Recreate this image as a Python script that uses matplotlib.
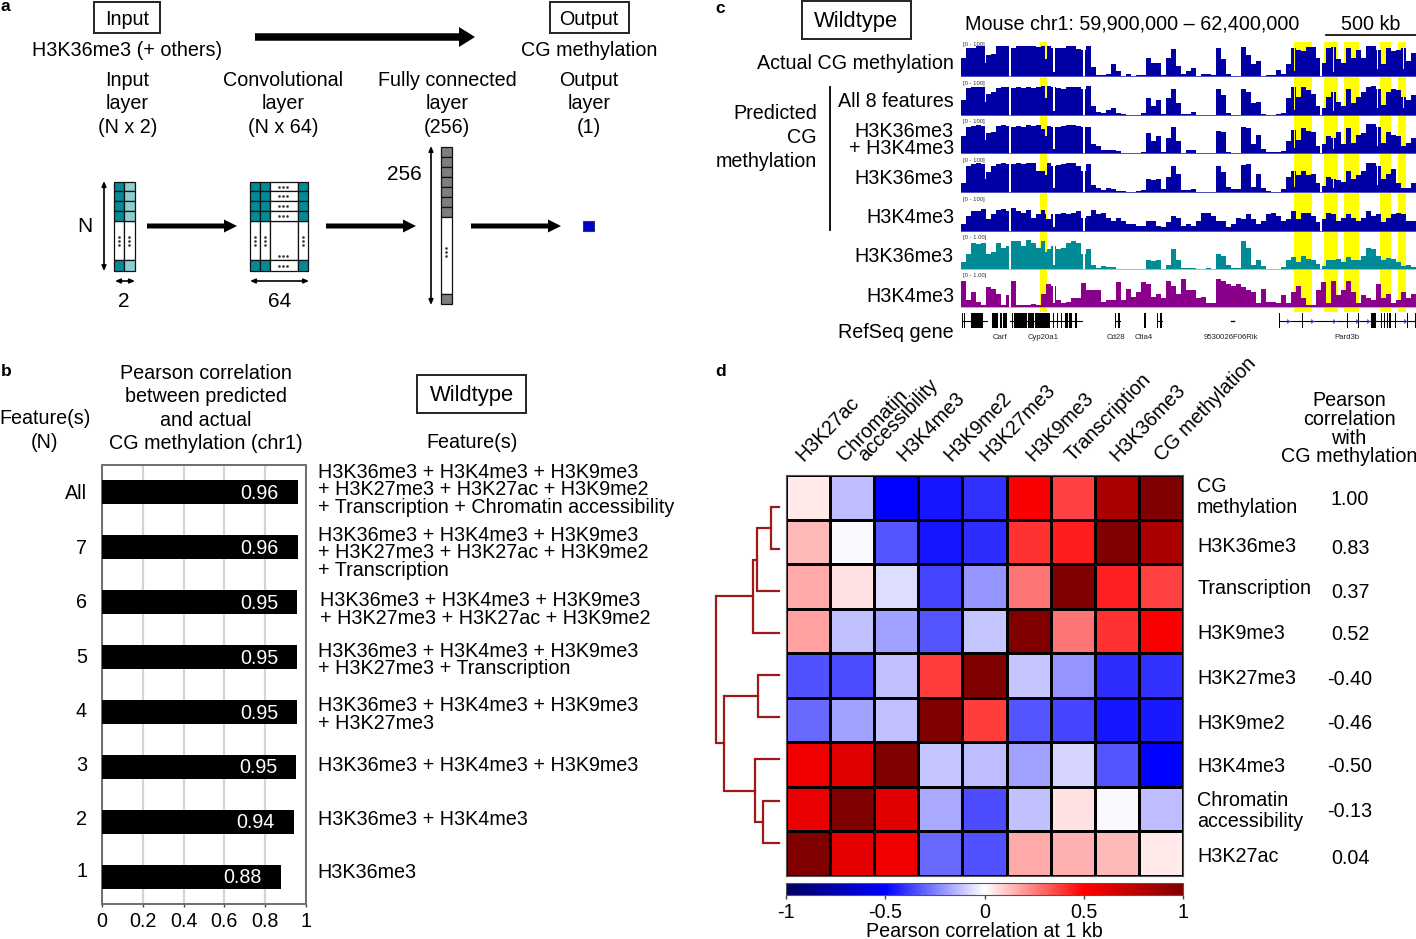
import numpy as np
import matplotlib
matplotlib.use("Agg")
import matplotlib.pyplot as plt
from matplotlib.colors import LinearSegmentedColormap
from matplotlib.patches import FancyArrow, Rectangle

plt.rcParams["font.family"] = ["Liberation Sans", "DejaVu Sans"]

W, H = 1416, 939
FS = 14.2

# -----------------------------
# Data: panel b
# -----------------------------
bar_names = ["All", "7", "6", "5", "4", "3", "2", "1"]
bar_values = [0.96, 0.96, 0.956, 0.956, 0.956, 0.952, 0.94, 0.877]
bar_labels = ["0.96", "0.96", "0.95", "0.95", "0.95", "0.95", "0.94", "0.88"]
bar_ticks = [0, 0.2, 0.4, 0.6, 0.8, 1]
bar_ticklabels = ["0", "0.2", "0.4", "0.6", "0.8", "1"]
feature_lines = [
    "H3K36me3 + H3K4me3 + H3K9me3",
    "+ H3K27me3 + H3K27ac + H3K9me2",
    "+ Transcription + Chromatin accessibility",
    "H3K36me3 + H3K4me3 + H3K9me3",
    "+ H3K27me3 + H3K27ac + H3K9me2",
    "+ Transcription",
    "H3K36me3 + H3K4me3 + H3K9me3",
    "+ H3K27me3 + H3K27ac + H3K9me2",
    "H3K36me3 + H3K4me3 + H3K9me3",
    "+ H3K27me3 + Transcription",
    "H3K36me3 + H3K4me3 + H3K9me3",
    "+ H3K27me3",
    "H3K36me3 + H3K4me3 + H3K9me3",
    "H3K36me3 + H3K4me3",
    "H3K36me3",
]

# -----------------------------
# Data: panel c, genome tracks (5 px bins)
# -----------------------------
track_actual = [60,92,90,98,98,70,72,98,98,96,92,97,98,98,98,95,98,98,92,90,90,98,98,88,85,98,30,5,6,10,40,18,3,8,3,6,5,60,45,45,5,60,88,35,10,18,
                28,2,8,10,5,90,55,10,3,4,95,70,40,50,3,6,6,22,10,40,90,85,80,95,95,60,45,90,95,55,45,90,60,85,60,98,98,85,40,92,80,85,90,50,75]
track_all8 = [50,88,90,92,90,70,75,88,92,90,88,90,88,90,88,92,95,95,90,88,85,92,90,90,85,95,30,12,8,18,25,8,5,4,4,3,10,55,30,50,5,55,85,40,5,6,
              12,3,3,3,3,85,65,8,4,4,85,75,40,45,6,4,4,5,8,55,90,60,90,80,70,30,25,60,75,45,30,85,40,60,75,90,95,85,35,75,85,80,60,50,65]
track_pair = [55,85,88,92,88,65,70,88,92,88,85,88,85,90,88,90,78,88,85,85,88,90,90,88,85,85,30,25,12,14,14,8,3,3,3,3,5,65,40,55,5,50,85,40,3,14,
              14,3,4,4,3,72,70,6,4,4,85,80,30,60,15,6,6,5,10,40,75,45,80,72,70,25,30,55,50,70,30,80,35,60,65,95,95,85,35,70,60,55,25,35,50]
track_k36 = [30,85,90,95,90,65,85,90,95,92,90,95,92,95,95,70,70,95,85,88,92,95,95,85,70,90,25,15,10,15,12,5,5,4,3,5,8,45,40,45,12,50,85,60,10,8,
             12,3,4,3,4,85,65,20,12,12,88,90,20,60,15,5,3,4,12,50,70,55,70,55,60,30,22,50,45,40,35,70,45,55,70,95,95,85,45,60,75,30,15,15,30]
track_k4 = [25,50,65,65,72,40,55,70,72,65,75,65,60,70,45,55,68,40,55,55,60,55,60,65,45,50,70,55,60,45,35,45,35,25,25,20,20,35,35,20,15,30,50,45,20,25,
            20,35,60,60,50,35,35,15,25,45,40,55,40,25,35,55,60,50,35,40,65,40,60,60,50,30,40,60,55,35,45,55,45,35,45,65,50,55,30,45,55,60,55,35,35]
track_chip36 = [25,50,85,80,85,50,55,85,70,75,90,92,75,95,85,70,90,65,75,65,70,85,90,85,50,65,15,5,12,8,10,3,3,3,2,2,3,30,28,30,4,15,65,30,5,6,
                5,4,4,5,3,50,45,15,5,5,90,70,15,30,12,2,2,2,8,30,40,25,45,35,30,20,12,30,30,35,25,40,30,30,45,70,65,45,30,38,35,25,12,15,10]
track_chip4 = [85,25,50,20,10,65,60,45,10,40,85,10,10,8,12,8,45,75,70,25,15,20,30,30,78,55,55,55,20,25,25,80,25,60,35,50,80,75,35,45,30,85,70,45,90,55,
               55,30,35,15,15,90,85,75,70,75,65,55,50,15,60,20,20,15,40,15,50,70,30,10,10,55,80,15,85,40,55,85,50,15,40,30,25,75,30,45,15,25,50,30,45]
track_series = [track_actual, track_all8, track_pair, track_k36, track_k4, track_chip36, track_chip4]
track_colors = ["#0000a5"] * 5 + ["#008b96", "#8b008b"]
track_base_colors = ["#5a5ac8"] * 5 + ["#c0c0c0", "#c0c0c0"]
track_ranges = ["[0 - 100]"] * 5 + ["[0 - 1.00]"] * 2
track_labels = ["Actual CG methylation", "All 8 features", "H3K36me3", "H3K4me3",
                "H3K36me3", "H3K4me3", "RefSeq gene"]
# narrow dips seen in the tracks: x in px, width in px, level
track_dips = [(1009, 2, 0), (1053, 2, 15), (1083, 2, 0), (1320, 2, 0), (1045, 2, 55),
              (985, 1, 45), (1294, 1, 20), (1333, 1, 15), (1377, 1, 25), (1403, 1, 25)]
# how many of the dips each track shows, first ones first
track_dip_use = [10, 10, 10, 9, 5, 5, 2]

highlight_spans = [(1040, 1047), (1294, 1312), (1324, 1338), (1344, 1359), (1380, 1391), (1398, 1406)]

gene_lines = [(962, 987), (1010, 1082), (1115, 1120), (1157, 1162), (1279, 1416)]
gene_exons = [(962, 963), (964, 965), (971, 983), (992, 998), (1000, 1002), (1003, 1007), (1012, 1013),
              (1014, 1027), (1028, 1034), (1035, 1050), (1053, 1054), (1057, 1058), (1061, 1062),
              (1065, 1068), (1069, 1072), (1075, 1077), (1115, 1116), (1118, 1120), (1144, 1146),
              (1157, 1158), (1160, 1162), (1279, 1280), (1302, 1303), (1347, 1348), (1358, 1359),
              (1371, 1376), (1381, 1382), (1384, 1385), (1387, 1388), (1389, 1391), (1395, 1396),
              (1407, 1408), (1415, 1416)]
gene_dash = (1231, 1234)
gene_strand = [1288, 1312, 1334, 1357, 1368, 1405]
gene_names = ["Carf", "Cyp20a1", "Cd28", "Ctla4", "9530026F06Rik", "Pard3b"]
gene_name_x = [1000, 1043, 1116, 1144, 1231, 1347]

# -----------------------------
# Data: panel d
# -----------------------------
corr_cols = ["H3K27ac", "Chromatin\naccessibility", "H3K4me3", "H3K9me2", "H3K27me3",
             "H3K9me3", "Transcription", "H3K36me3", "CG methylation"]
corr_rows = ["CG\nmethylation", "H3K36me3", "Transcription", "H3K9me3", "H3K27me3",
             "H3K9me2", "H3K4me3", "Chromatin\naccessibility", "H3K27ac"]
corr_with_cg = ["1.00", "0.83", "0.37", "0.52", "-0.40", "-0.46", "-0.50", "-0.13", "0.04"]
corr = [
    [0.04, -0.13, -0.50, -0.46, -0.40, 0.52, 0.37, 0.83, 1.00],
    [0.14, -0.01, -0.33, -0.46, -0.41, 0.40, 0.44, 1.00, 0.83],
    [0.17, 0.06, -0.07, -0.36, -0.21, 0.27, 1.00, 0.43, 0.37],
    [0.18, -0.12, -0.18, -0.33, -0.11, 1.00, 0.27, 0.40, 0.52],
    [-0.34, -0.35, -0.12, 0.38, 1.00, -0.11, -0.21, -0.41, -0.40],
    [-0.29, -0.18, -0.12, 1.00, 0.38, -0.33, -0.36, -0.46, -0.45],
    [0.55, 0.62, 1.00, -0.11, -0.13, -0.18, -0.08, -0.33, -0.50],
    [0.58, 1.00, 0.62, -0.17, -0.35, -0.12, 0.06, -0.01, -0.13],
    [1.00, 0.60, 0.55, -0.29, -0.34, 0.17, 0.15, 0.14, 0.04],
]
# dendrogram: (child a, child b, height), negative ids are leaves 0..8 as -1..-9
dendro_merges = [(-1, -2, 8), (0, -3, 22), (1, -4, 25.5), (-5, -6, 20.5), (-8, -9, 15.5),
                 (-7, 4, 24), (3, 5, 55), (2, 6, 63)]

cbar_ticks = [-1, -0.5, 0, 0.5, 1]
cbar_ticklabels = ["-1", "-0.5", "0", "0.5", "1"]


def px_axes(left, top, right, bottom, **kw):
    return fig.add_axes([left / W, 1 - bottom / H, (right - left) / W, (bottom - top) / H], **kw)


def txt(x, y, s, size=FS, ha="center", va="center", **kw):
    page.text(x, y + 1.5, s, fontsize=size, ha=ha, va=va, **kw)


def arrow(x0, x1, y, shaft, head_w, head_l):
    page.add_patch(FancyArrow(x0, y, x1 - x0, 0, width=shaft, head_width=head_w, head_length=head_l,
                              length_includes_head=True, color="black", lw=0))


fig = plt.figure(figsize=(W / 100, H / 100), dpi=100)
page = fig.add_axes([0, 0, 1, 1], zorder=0)
page.set_xlim(0, W)
page.set_ylim(H, 0)
page.axis("off")

for x, y, s in [(5, 5, "a"), (6, 370, "b"), (720, 7, "c"), (721, 370, "d")]:
    txt(x, y, s, size=12.5, fontweight="bold")

# -----------------------------
# Panel a: network schematic
# -----------------------------
for x0, x1, y0, y1 in [(94, 160, 2, 33), (550, 629, 2, 33), (417, 526, 375, 413), (802, 911, 1, 39)]:
    page.add_patch(Rectangle((x0, y0), x1 - x0, y1 - y0, fc="white", ec="#222222", lw=1.4))
txt(127, 18, "Input")
txt(589, 18, "Output")
txt(127.5, 49, "H3K36me3 (+ others)")
txt(589, 49, "CG methylation")
arrow(255, 475, 37, 7.5, 20, 16)
for cx, lines in [(127.5, ["Input", "layer", "(N x 2)"]), (283, ["Convolutional", "layer", "(N x 64)"]),
                  (447, ["Fully connected", "layer", "(256)"]), (589, ["Output", "layer", "(1)"])]:
    for y, s in zip([79, 102, 126], lines):
        txt(cx, y, s)
for x0, x1 in [(147, 237), (326, 416), (471, 561)]:
    arrow(x0, x1, 226, 5, 13, 13)

TEAL, LTEAL, GREY = "#008b96", "#8ccdd2", "#7f7f7f"
row_edges = [182, 191, 200.5, 210.5, 220.5]
bottom_row = (260, 271)


def cell(x0, x1, y0, y1, color):
    page.add_patch(Rectangle((x0, y0), x1 - x0, y1 - y0, fc=color, ec="#111111", lw=0.9))


for x0, x1, c in [(114, 124, TEAL), (124, 134.5, LTEAL)]:
    cell(x0, x1, 220.5, 260, "white")
    cell(x0, x1, *bottom_row, c)
    for y0, y1 in zip(row_edges[:-1], row_edges[1:]):
        cell(x0, x1, y0, y1, c)
    page.plot([(x0 + x1) / 2] * 3, [237, 241, 245], ls="", marker="s", ms=0.8, color="#333333")

conv_cols = [(249.5, 259.5, TEAL), (259.5, 269.5, TEAL), (269.5, 298, "white"), (298, 308, TEAL)]
for x0, x1, c in conv_cols:
    cell(x0, x1, 220.5, 260, "white")
    cell(x0, x1, *bottom_row, c)
    for y0, y1 in zip(row_edges[:-1], row_edges[1:]):
        cell(x0, x1, y0, y1, c)
for y in [186.5, 196, 205.5, 215.5, 256, 265.5]:
    page.plot([279, 283, 287], [y] * 3, ls="", marker="s", ms=0.8, color="#333333")
for x in [254.5, 264.5, 303]:
    page.plot([x] * 3, [237, 241, 245], ls="", marker="s", ms=0.8, color="#333333")

for i in range(7):
    cell(441, 451.5, 147 + 10 * i, 157 + 10 * i, GREY)
cell(441, 451.5, 217, 294, "white")
cell(441, 451.5, 294, 304, GREY)
page.plot([446] * 3, [248, 252, 256], ls="", marker="s", ms=0.8, color="#333333")
page.add_patch(Rectangle((583, 220.5), 10.5, 10.5, fc="#0000cc", ec="#333366", lw=0.8))

for start, end in [((104, 181), (104, 271)), ((115, 281), (135, 281)), ((250, 281), (309, 281)), ((431, 146), (431, 305))]:
    page.annotate("", xy=end, xytext=start,
                  arrowprops=dict(arrowstyle="<|-|>,head_width=0.13,head_length=0.3", color="black", lw=1.2,
                                  shrinkA=0, shrinkB=0))
txt(85, 225, "N", size=15)
txt(124, 300, "2", size=15)
txt(280, 300, "64", size=15)
txt(404, 173, "256", size=15)

# -----------------------------
# Panel b: bars
# -----------------------------
for y, s in zip([372, 395, 419, 442], ["Pearson correlation", "between predicted", "and actual", "CG methylation (chr1)"]):
    txt(206, y, s)
txt(45, 417, "Feature(s)")
txt(45, 441, "(N)")
txt(472, 394, "Wildtype", size=15.8)
txt(472, 441, "Feature(s)")

ax_bar = px_axes(102, 465, 306, 904)
ypos = np.arange(len(bar_values))
ax_bar.barh(ypos, bar_values, height=24 / 55, color="black", zorder=3)
ax_bar.set_ylim(len(bar_values) - 0.5, -0.5)
ax_bar.set_xlim(0, 1)
ax_bar.set_yticks([])
ax_bar.set_xticks(bar_ticks)
ax_bar.set_xticklabels(bar_ticklabels, fontsize=FS)
ax_bar.tick_params(axis="x", length=2.5, width=1, color="#444444", pad=3.5)
ax_bar.grid(axis="x", color="#d4d4d4", lw=1.6, zorder=0)
for spine in ax_bar.spines.values():
    spine.set_color("#6e6e6e")
    spine.set_linewidth(1.4)
for y, v, s in zip(ypos, bar_values, bar_labels):
    ax_bar.text(v - 0.187, y + 0.02, s, color="white", fontsize=FS, ha="center", va="center", zorder=4)
for y, s in zip([492, 547, 601, 656, 710, 764, 818, 870], bar_names):
    txt(87, y, s, ha="right")

feature_y = [471, 488, 506, 534, 551, 569, 599, 617, 650, 667, 704, 722, 764, 818, 871]
feature_x = [318, 318, 318, 318, 318, 318, 320, 320, 318, 318, 318, 318, 318, 318, 317]
for x, y, s in zip(feature_x, feature_y, feature_lines):
    txt(x, y, s, ha="left")

# -----------------------------
# Panel c: tracks
# -----------------------------
txt(856, 20, "Wildtype", size=15.8)
txt(965, 23, "Mouse chr1: 59,900,000 \u2013 62,400,000", ha="left")
txt(1371, 23, "500 kb")
page.plot([1326, 1416], [35, 35], color="black", lw=1.2)
page.plot([830, 830], [87, 230], color="black", lw=1.3)
for y, s in zip([112, 136, 160], ["Predicted", "CG", "methylation"]):
    txt(817, y, s, ha="right")
for y, s in zip([62, 100, 177, 216, 255, 295, 331], track_labels):
    txt(954, y, s, ha="right")
txt(954, 130, "H3K36me3", ha="right")
txt(954, 147, "+ H3K4me3", ha="right")

for x0, x1 in highlight_spans:
    page.add_patch(Rectangle((x0, 42), x1 - x0, 270, fc="#ffff00", ec="none", zorder=0))

track_bases = [77, 116, 154, 193, 232, 270, 308]
TRACK_X0, TRACK_BIN = 961, 5
for base, vals, col, bcol, rng, n_dips in zip(track_bases, track_series, track_colors, track_base_colors,
                                              track_ranges, track_dip_use):
    ax = px_axes(TRACK_X0, base - 32, 1416, base, zorder=1)
    ax.patch.set_alpha(0)
    fine = np.repeat(np.array(vals, dtype=float), TRACK_BIN)
    for px, width, level in track_dips[:n_dips]:
        i0 = px - TRACK_X0
        fine[i0:i0 + width] = np.minimum(fine[i0:i0 + width], level)
    ax.stairs(fine, np.arange(len(fine) + 1), fill=True, color=col, lw=0)
    ax.axhline(0, color=bcol, lw=2)
    ax.set_xlim(0, len(fine))
    ax.set_ylim(0, 100)
    ax.axis("off")
    ax.text(0.005, 1.03, rng, transform=ax.transAxes, fontsize=4.2, color="#333333", ha="left", va="center")

for x0, x1 in gene_lines:
    page.plot([x0, x1], [321, 321], color="black", lw=0.8)
for x0, x1 in gene_exons:
    page.add_patch(Rectangle((x0, 313), x1 - x0, 15, fc="black", ec="none"))
page.plot(gene_dash, [321, 321], color="black", lw=1)
page.plot(gene_strand, [321] * len(gene_strand), ls="", marker="4", ms=4, color="#2020e0", mew=0.8)
for x, s in zip(gene_name_x, gene_names):
    txt(x, 336, s, size=5.6, color="#222222")

# -----------------------------
# Panel d: heatmap
# -----------------------------
cmap = LinearSegmentedColormap.from_list(
    "corr", [(0, "#000060"), (0.25, "#0000ff"), (0.5, "#ffffff"), (0.75, "#ff0000"), (1, "#800000")])
ax_heat = px_axes(786, 475, 1183, 876)
mesh = ax_heat.pcolormesh(np.array(corr), cmap=cmap, vmin=-1, vmax=1, edgecolors="black", linewidth=0.8)
ax_heat.invert_yaxis()
ax_heat.set_xticks([])
ax_heat.set_yticks([])
for spine in ax_heat.spines.values():
    spine.set_color("#555555")

cax = px_axes(786, 883, 1183, 895)
cb = fig.colorbar(mesh, cax=cax, orientation="horizontal")
cb.set_ticks(cbar_ticks)
cb.set_ticklabels(cbar_ticklabels, fontsize=FS)
cb.ax.tick_params(length=3, width=1, pad=3, color="#444444")
cb.outline.set_edgecolor("#555555")
cb.set_label("Pearson correlation at 1 kb", fontsize=FS, labelpad=0)

col_x = [801, 849, 902, 949, 985, 1031, 1071, 1115, 1160]
for x, s in zip(col_x, corr_cols):
    if "\n" in s:
        a, b = s.split("\n")
        txt(x - 8, 456.5, a, ha="left", va="center", rotation=46, rotation_mode="anchor")
        txt(x + 12, 456.5, b, ha="left", va="center", rotation=46, rotation_mode="anchor")
    else:
        txt(x - 2, 456.5, s, ha="left", va="center", rotation=46, rotation_mode="anchor")

for y, s in zip([399, 418, 437, 455], ["Pearson", "correlation", "with", "CG methylation"]):
    txt(1349, y, s)
row_y = [(485, 506), (545,), (587,), (632,), (677,), (722,), (765,), (799, 820), (855,)]
for ys, s in zip(row_y, corr_rows):
    for y, part in zip(ys, s.split("\n")):
        txt(1197, y, part, ha="left")
for y, s in zip([498, 547, 591, 633, 678, 722, 765, 810, 857], corr_with_cg):
    txt(1350, y, s)

# dendrogram, leaves at 42 px steps, heights in px left of the leaf ends
ax_den = px_axes(716, 507, 779, 843, zorder=1)
ax_den.patch.set_alpha(0)
ax_den.set_xlim(63, 0)
ax_den.set_ylim(8, 0)
ax_den.axis("off")
pos = {}
hgt = {}
for i in range(9):
    pos[-(i + 1)] = i
    hgt[-(i + 1)] = 0
for k, (a, b, h) in enumerate(dendro_merges):
    ax_den.plot([hgt[a], h, h, hgt[b]], [pos[a], pos[a], pos[b], pos[b]], color="#a01818", lw=1.6, clip_on=False,
                solid_joinstyle="miter")
    pos[k] = (pos[a] + pos[b]) / 2
    hgt[k] = h

plt.savefig("out.png", dpi=100)
plt.close()
